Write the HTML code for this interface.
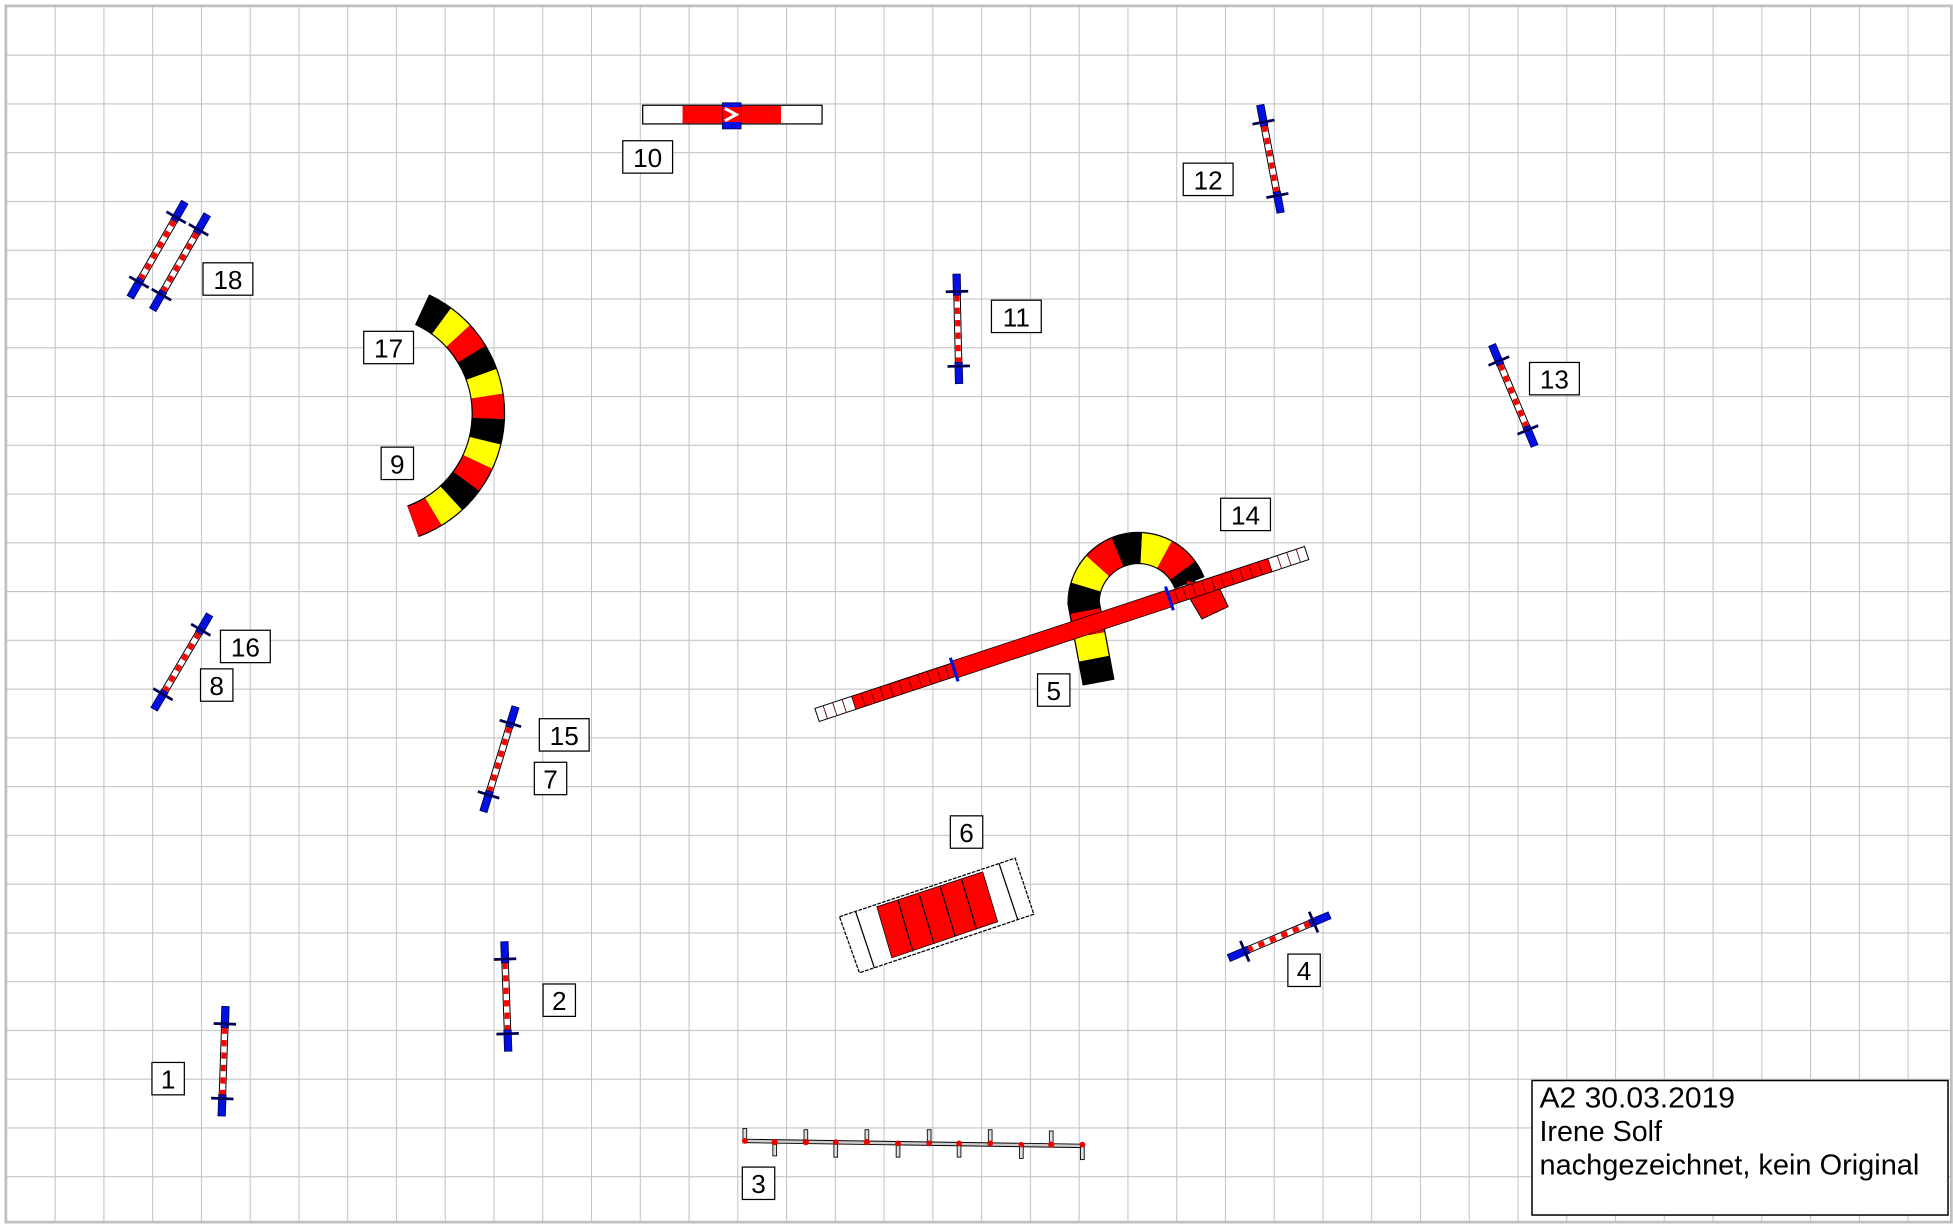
<!DOCTYPE html>
<html><head><meta charset="utf-8"><style>
html,body{margin:0;padding:0;background:#fff;}
svg{display:block;}
text{font-family:"Liberation Sans",Arial,sans-serif;}
</style></head><body>
<svg width="1953" height="1226" viewBox="0 0 1568 984.3" preserveAspectRatio="none" xmlns="http://www.w3.org/2000/svg">
<defs>
<pattern id="grid" x="4.7" y="4.7" width="39.15" height="39.15" patternUnits="userSpaceOnUse">
<path d="M0 0 V39.15 M0 0 H39.15" stroke="#c4c4c4" stroke-width="1.7" fill="none"/>
</pattern>
<g id="jump">
<rect x="-2.6" y="-30" width="5.2" height="60" fill="#fff" stroke="#000" stroke-width="0.8"/>
<line x1="0" y1="-27" x2="0" y2="30" stroke="#f00" stroke-width="4" stroke-dasharray="5 5"/>
<rect x="-3" y="-44" width="6" height="17" fill="#0010e0" stroke="#000050" stroke-width="0.6"/>
<rect x="-3" y="27" width="6" height="17" fill="#0010e0" stroke="#000050" stroke-width="0.6"/>
<line x1="-9" y1="-30" x2="9" y2="-30" stroke="#000050" stroke-width="2.2"/>
<line x1="-9" y1="30" x2="9" y2="30" stroke="#000050" stroke-width="2.2"/>
</g>
</defs>
<rect x="0" y="0" width="1568" height="984.3" fill="#fff"/>
<rect x="4.7" y="4.7" width="1562" height="976.5" fill="url(#grid)" stroke="#c0c0c0" stroke-width="2.2"/>

<!-- jumps -->
<use href="#jump" transform="translate(179.5,852) rotate(2)"/>
<use href="#jump" transform="translate(406.5,800) rotate(-2)"/>
<use href="#jump" transform="translate(769,264) rotate(-1.3)"/>
<use href="#jump" transform="translate(1020,127.5) rotate(-10.7)"/>
<use href="#jump" transform="translate(1215,317.5) rotate(-22.8)"/>
<use href="#jump" transform="translate(1027,752) rotate(67)"/>
<use href="#jump" transform="translate(146,531.5) rotate(30.4)"/>
<use href="#jump" transform="translate(401,609.5) rotate(17)"/>
<use href="#jump" transform="translate(126.5,200.5) rotate(29.8)"/>
<use href="#jump" transform="translate(144.5,210.5) rotate(29.8)"/>

<!-- tire 10 -->
<rect x="516" y="84.5" width="144" height="15" fill="#fff" stroke="#000" stroke-width="1"/>
<rect x="548" y="85" width="79" height="14" fill="#f00"/>
<rect x="580" y="82.5" width="15" height="21" fill="#0010e0" stroke="#000050" stroke-width="0.6"/>
<rect x="580" y="86" width="15" height="12" fill="#f00"/>
<path d="M582 87 L591 92 L582 97" stroke="#fff" stroke-width="2.5" fill="none"/>

<!-- tunnel 17/9 -->
<path d="M338.9,248.6 A92 92 0 0 1 331.5,418.5" fill="none" stroke="#000" stroke-width="27"/>
<path d="M338.9,248.6 A92 92 0 0 1 331.5,418.5" fill="none" stroke="#000" stroke-width="25" stroke-dasharray="18.07 36.14"/>
<path d="M338.9,248.6 A92 92 0 0 1 331.5,418.5" fill="none" stroke="#ff0" stroke-width="25" stroke-dasharray="0 18.07 18.07 18.07"/>
<path d="M338.9,248.6 A92 92 0 0 1 331.5,418.5" fill="none" stroke="#f00" stroke-width="25" stroke-dasharray="0 36.14 18.07 0"/>

<!-- tunnel 14 -->
<path d="M882,548 L870,484 A44 44 0 0 1 955,468" fill="none" stroke="#000" stroke-width="26"/>
<path d="M882,548 L870,484 A44 44 0 0 1 955,468" fill="none" stroke="#000" stroke-width="24" stroke-dasharray="19.5 39"/>
<path d="M882,548 L870,484 A44 44 0 0 1 955,468" fill="none" stroke="#ff0" stroke-width="24" stroke-dasharray="0 19.5 19.5 19.5"/>
<path d="M882,548 L870,484 A44 44 0 0 1 955,468" fill="none" stroke="#f00" stroke-width="24" stroke-dasharray="0 39 19.5 0"/>
<polygon points="952,466 978,470 986,487 965,497 955,480" fill="#f00" stroke="#000" stroke-width="0.8"/>

<!-- seesaw 5 -->
<g transform="translate(852.5,509) rotate(-18.3)">
<rect x="-207" y="-5.5" width="414" height="11" fill="#fff" stroke="#000" stroke-width="0.8"/>
<rect x="-176" y="-5.5" width="352" height="11" fill="#f00" stroke="#000" stroke-width="0.6"/>
<rect x="-91" y="-7" width="182" height="14" fill="#f00" stroke="#000" stroke-width="0.6"/>
<path d="M-200 -5.5v11M-192 -5.5v11M-184 -5.5v11M200 -5.5v11M192 -5.5v11M184 -5.5v11M-168 -5.5v11M-160 -5.5v11M-152 -5.5v11M-144 -5.5v11M-136 -5.5v11M-128 -5.5v11M-120 -5.5v11M-112 -5.5v11M-104 -5.5v11M-97 -5.5v11M168 -5.5v11M160 -5.5v11M152 -5.5v11M144 -5.5v11M136 -5.5v11M128 -5.5v11M120 -5.5v11M112 -5.5v11M104 -5.5v11M97 -5.5v11" stroke="#600" stroke-width="0.7"/>
<line x1="-91" y1="-10" x2="-91" y2="10" stroke="#0010e0" stroke-width="2.5"/>
<line x1="91" y1="-10" x2="91" y2="10" stroke="#0010e0" stroke-width="2.5"/>
</g>

<!-- table 6 -->
<polygon points="674,736 815,689 830,734 690,781" fill="#fff" stroke="#000" stroke-width="1" stroke-dasharray="3 1"/>
<polygon points="704,728 789,700 801,740 716,769" fill="#f00" stroke="#000" stroke-width="0.6"/>
<path d="M687,732 L702,777 M802,693 L817,738 M721,723 L733,764 M738,718 L750,758 M755,712 L767,752 M772,706 L784,746" stroke="#000" stroke-width="1"/>

<!-- weave 3 -->
<line x1="597" y1="916" x2="870" y2="920" stroke="#000" stroke-width="3.5"/>
<line x1="597" y1="916" x2="870" y2="920" stroke="#ccc" stroke-width="2"/>
<g fill="#ddd" stroke="#000" stroke-width="0.7">
<rect x="596.5" y="906" width="3" height="10"/>
<rect x="620.5" y="917" width="3" height="11"/>
<rect x="645.5" y="907" width="3" height="10"/>
<rect x="669.5" y="918" width="3" height="11"/>
<rect x="694.5" y="907" width="3" height="10"/>
<rect x="719.5" y="918" width="3" height="11"/>
<rect x="744.5" y="907" width="3" height="10"/>
<rect x="768.5" y="918" width="3" height="11"/>
<rect x="793.5" y="907" width="3" height="11"/>
<rect x="818.5" y="919" width="3" height="11"/>
<rect x="842.5" y="908" width="3" height="11"/>
<rect x="867.5" y="919" width="3" height="12"/>
</g>
<g fill="#e00">
<circle cx="598" cy="916" r="2.3"/><circle cx="622" cy="917" r="2.5"/><circle cx="647" cy="917" r="2.5"/><circle cx="671" cy="917" r="2.3"/><circle cx="696" cy="917" r="2.5"/><circle cx="721" cy="918" r="2.3"/><circle cx="746" cy="918" r="2.3"/><circle cx="770" cy="918" r="2.3"/><circle cx="795" cy="918" r="2.3"/><circle cx="820" cy="919" r="2.2"/><circle cx="844" cy="919" r="2.5"/><circle cx="869" cy="919" r="2.3"/>
</g>

<!-- labels -->
<g font-size="21" text-anchor="middle" fill="#000">
<g fill="#fff" stroke="#000" stroke-width="1">
<rect x="500" y="113" width="40" height="26"/>
<rect x="950" y="131" width="40" height="26"/>
<rect x="163" y="211" width="40" height="26"/>
<rect x="292" y="266" width="40" height="26"/>
<rect x="796" y="241" width="40" height="26"/>
<rect x="1228" y="291" width="40" height="26"/>
<rect x="306" y="359" width="26" height="26"/>
<rect x="980" y="400" width="40" height="26"/>
<rect x="177" y="506" width="40" height="26"/>
<rect x="161" y="537" width="26" height="26"/>
<rect x="433" y="577" width="40" height="26"/>
<rect x="429" y="612" width="26" height="26"/>
<rect x="833" y="541" width="26" height="26"/>
<rect x="763" y="655" width="26" height="26"/>
<rect x="1034" y="766" width="26" height="26"/>
<rect x="436" y="790" width="26" height="26"/>
<rect x="122" y="853" width="26" height="26"/>
<rect x="596" y="937" width="26" height="26"/>
</g>
<text x="520" y="134">10</text>
<text x="970" y="152">12</text>
<text x="183" y="232">18</text>
<text x="312" y="287">17</text>
<text x="816" y="262">11</text>
<text x="1248" y="312">13</text>
<text x="319" y="380">9</text>
<text x="1000" y="421">14</text>
<text x="197" y="527">16</text>
<text x="174" y="558">8</text>
<text x="453" y="598">15</text>
<text x="442" y="633">7</text>
<text x="846" y="562">5</text>
<text x="776" y="676">6</text>
<text x="1047" y="787">4</text>
<text x="449" y="811">2</text>
<text x="135" y="874">1</text>
<text x="609" y="958">3</text>
</g>

<!-- info box -->
<rect x="1230" y="867.5" width="334" height="108" fill="#fff" stroke="#000" stroke-width="1.2"/>
<g font-size="23" fill="#000">
<text x="1236" y="889" textLength="157" lengthAdjust="spacingAndGlyphs">A2 30.03.2019</text>
<text x="1236" y="916">Irene Solf</text>
<text x="1236" y="943" textLength="305" lengthAdjust="spacingAndGlyphs">nachgezeichnet, kein Original</text>
</g>
</svg>
</body></html>
